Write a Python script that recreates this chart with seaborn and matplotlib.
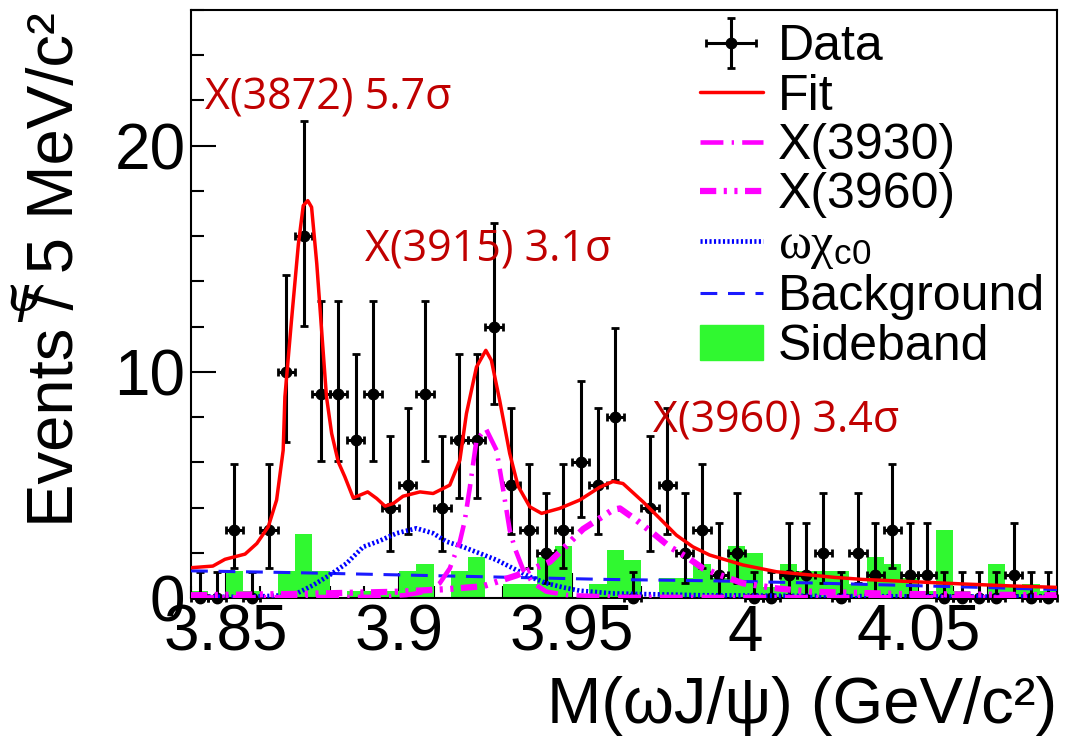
import numpy as np
import pandas as pd
import seaborn as sns
import matplotlib.pyplot as plt
from matplotlib.patches import Patch
from matplotlib.ticker import MultipleLocator, FuncFormatter

# 5 MeV/c^2 bins, 3.84 - 4.09 GeV/c^2
edges = np.linspace(3.84, 4.09, 51)
centers = edges[:-1] + 0.0025

counts = [0, 0, 3, 0, 3, 10, 16, 9, 9, 7,
          9, 4, 5, 9, 4, 7, 7, 12, 5, 3,
          2, 3, 6, 5, 8, 0, 4, 5, 2, 3,
          1, 2, 0, 0, 1, 1, 2, 0, 2, 1,
          3, 1, 1, 0, 0, 0, 0, 1, 0, 0]

sideband = [0.3, 0, 1.2, 0.3, 0, 1.2, 2.85, 1.2, 0, 0.3,
            0.3, 0.3, 1.2, 1.5, 0, 1.2, 1.8, 0, 0.6, 0.6,
            1.8, 2.3, 0, 0.6, 2.1, 1.7, 0, 0.9, 0.9, 1.5,
            0.9, 2.3, 2.0, 0.5, 1.5, 1.2, 1.2, 1.2, 0.6, 1.8,
            1.5, 0.9, 0.3, 3.0, 0.3, 0, 1.5, 0.5, 0.6, 0.3]

fit_m = [3.8402, 3.8463, 3.8498, 3.8556, 3.8590, 3.8623, 3.8647, 3.8666, 3.8671,
         3.8690, 3.8710, 3.8724, 3.8737, 3.8748, 3.8763, 3.8777, 3.8791, 3.8806,
         3.8825, 3.8844, 3.8868, 3.8888, 3.8910, 3.8936, 3.8960, 3.8984, 3.9012,
         3.9061, 3.9099, 3.9147, 3.9176, 3.9195, 3.9224, 3.9251, 3.9267, 3.9291,
         3.9320, 3.9344, 3.9378, 3.9412, 3.9464, 3.9522, 3.9580, 3.9618, 3.9647,
         3.9705, 3.9753, 3.9801, 3.9849, 3.9897, 3.9993, 4.0090, 4.0186, 4.0258,
         4.0339, 4.0484, 4.0628, 4.0772, 4.0897]
fit_y = [1.34, 1.41, 1.71, 1.94, 2.41, 3.15, 4.33, 6.53, 8.9,
         12.27, 15.66, 17.35, 17.57, 17.28, 14.78, 11.83, 8.9, 7.27,
         6.02, 5.36, 4.43, 4.55, 4.69, 4.40, 4.06, 4.18, 4.5,
         4.69, 4.62, 4.99, 6.09, 8.15, 10.21, 10.95, 10.51, 8.74,
         6.39, 4.95, 4.03, 3.74, 3.96, 4.33, 4.9, 5.15, 5.06,
         4.25, 3.52, 2.78, 2.26, 1.90, 1.46, 1.16, 1.02, 0.91,
         0.82, 0.72, 0.62, 0.53, 0.47]

x3930_m = [3.84, 3.8945, 3.9022, 3.9080, 3.9118, 3.9147, 3.9176, 3.9190, 3.9205,
           3.9224, 3.9251, 3.9282, 3.9301, 3.9320, 3.9335, 3.9359, 3.9388, 3.9426,
           3.9484, 3.9638, 4.09]
x3930_y = [0.02, 0.05, 0.13, 0.28, 0.65, 1.31, 2.49, 3.4, 4.9,
           6.98, 7.49, 6.53, 4.8, 3.0, 2.19, 1.24, 0.65, 0.28,
           0.13, 0.05, 0.02]

x3960_m = [3.84, 3.8714, 3.9003, 3.9147, 3.9243, 3.9340, 3.9436, 3.9532, 3.9618,
           3.9638, 3.9686, 3.9734, 3.9782, 3.9830, 3.9878, 3.9926, 3.9993, 4.0089,
           4.0186, 4.0445, 4.0898]
x3960_y = [0.12, 0.18, 0.28, 0.4, 0.52, 1.0, 1.6, 3.05, 3.9,
           3.96, 3.44, 2.86, 2.26, 1.82, 1.31, 1.02, 0.65, 0.43,
           0.28, 0.18, 0.12]

wchi_m = [3.84, 3.857, 3.8671, 3.8705, 3.8753, 3.8801, 3.8849, 3.8897, 3.8945,
          3.8993, 3.9051, 3.9099, 3.9138, 3.9185, 3.9234, 3.9282, 3.9330, 3.9378,
          3.9426, 3.9474, 3.9522, 3.9617, 3.9868, 4.030, 4.0898]
wchi_y = [0.05, 0.05, 0.12, 0.2, 0.57, 1.02, 1.53, 2.26, 2.53,
          2.86, 3.08, 2.86, 2.49, 2.26, 1.97, 1.68, 1.31, 0.94,
          0.65, 0.47, 0.32, 0.2, 0.12, 0.08, 0.05]

bkg_m = [3.84, 3.87, 3.90, 3.93, 3.96, 3.99, 4.02, 4.05, 4.07, 4.09]
bkg_y = [1.2, 1.12, 1.02, 0.92, 0.82, 0.76, 0.66, 0.54, 0.46, 0.37]

peak_labels = ["X(3872) 5.7σ", "X(3915) 3.1σ", "X(3960) 3.4σ"]
peak_m = [3.844, 3.8902, 3.9733]
peak_y = [21.6, 14.9, 7.3]

legend_labels = ["Data", "Fit", "X(3930)", "X(3960)",
                 r"$\mathrm{\omega\chi}_{\mathsf{c0}}$", "Background", "Sideband"]

# Poisson (RooFit-like) asymmetric errors
n = np.array(counts, dtype=float)
err_lo = np.where(n > 0, np.sqrt(np.clip(n - 0.25, 0, None)), 0.0)
err_hi = np.where(n > 0, 1 + np.sqrt(n + 0.75), 1.148)

sns.set_style("ticks")
plt.rcParams['font.family'] = ['Liberation Sans', 'DejaVu Sans']
plt.rcParams['text.color'] = 'black'
plt.rcParams['axes.labelcolor'] = 'black'
plt.rcParams['mathtext.fontset'] = 'custom'
plt.rcParams['mathtext.rm'] = 'Liberation Serif'
plt.rcParams['mathtext.it'] = 'Liberation Serif:italic'
plt.rcParams['mathtext.sf'] = 'Liberation Sans'

green = "#30f830"
fig = plt.figure(figsize=(10.69, 7.5), dpi=100)
ax = fig.add_axes([0.1787, 0.2027, 0.8101, 0.784])

sb = pd.DataFrame({"m": centers, "w": sideband})
sns.histplot(data=sb, x="m", weights="w", bins=list(edges), color=green, alpha=1,
             linewidth=0, ax=ax)

data_h = ax.errorbar(centers, counts, xerr=0.0025, yerr=[err_lo, err_hi], fmt='o',
                     color='black', ms=7.5, elinewidth=2.2, capsize=3, capthick=2,
                     zorder=4, clip_on=False)


def curve(m, y, **kw):
    sns.lineplot(x=m, y=y, ax=ax, errorbar=None, sort=False, zorder=5, **kw)
    return ax.lines[-1]


bkg_l = curve(bkg_m, bkg_y, color='#1a1aff', linewidth=2.2, linestyle=(0, (5.5, 3.5)))
wchi_l = curve(wchi_m, wchi_y, color='#0000ff', linewidth=3.4, linestyle=(0, (0.45, 0.5)))
x3960_l = curve(x3960_m, x3960_y, color='#ff00ff', linewidth=4.5,
                linestyle=(0, (2.6, 1.2, 0.5, 1.2, 0.5, 1.2)))
x3930_l = curve(x3930_m, x3930_y, color='#ff00ff', linewidth=3.3,
                linestyle=(0, (5, 1.8, 0.5, 1.8)))
fit_l = curve(fit_m, fit_y, color='#ff0000', linewidth=2.5)

for t, xm, yv in zip(peak_labels, peak_m, peak_y):
    ax.text(xm, yv, t, color='#c00000', fontsize=31, family=['Open Sans', 'DejaVu Sans'],
            ha='left', va='baseline', zorder=6)

ax.set_xlim(3.84, 4.09)
ax.set_ylim(0, 26)
ax.xaxis.set_major_locator(MultipleLocator(0.05))
ax.xaxis.set_minor_locator(MultipleLocator(0.01))
ax.yaxis.set_major_locator(MultipleLocator(10))
ax.yaxis.set_minor_locator(MultipleLocator(2))
ax.xaxis.set_major_formatter(FuncFormatter(lambda v, p: "%g" % round(v, 3)))
ax.tick_params(which='both', direction='in', top=False, right=False, width=1.5,
               labelsize=46, pad=4, colors='black')
ax.tick_params(which='major', length=18)
ax.tick_params(which='minor', length=9)
for s in ax.spines.values():
    s.set_linewidth(1.5)
    s.set_color('black')

ax.set_xlabel("M(ωJ/ψ) (GeV/c²)", fontsize=47, loc='right')
ax.xaxis.set_label_coords(1.0, -0.132)
ax.set_ylabel("Events / 5 MeV/c²", fontsize=47)
ax.yaxis.set_label_coords(-0.121, 0.558)

fig.text(0.003, 0.585, "ψ", family='DejaVu Serif', style='italic', fontsize=36)

handles = [data_h, fit_l, x3930_l, x3960_l, wchi_l, bkg_l, Patch(color=green)]
ax.legend(handles, legend_labels, loc='upper left', bbox_to_anchor=(700 / 1069, 1 - 24 / 750),
          bbox_transform=fig.transFigure, frameon=False, fontsize=36, handlelength=1.25,
          handletextpad=0.3, labelspacing=0.07, borderpad=0, borderaxespad=0)

fig.savefig("out.png", dpi=100)
